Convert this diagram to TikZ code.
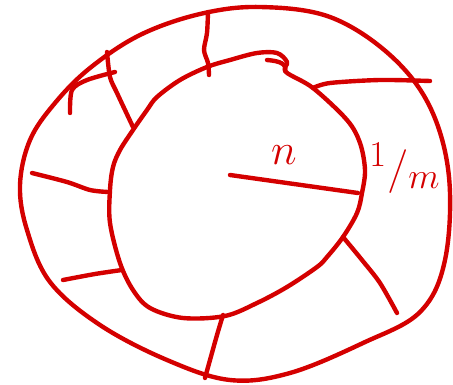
\documentclass[tikz,border=0pt]{standalone}
\usepackage{amsmath,amssymb}
\usetikzlibrary{calc,positioning}
\definecolor{InkRed}{HTML}{D40000}
\tikzset{
  stroke/.style={line width=2.5pt, draw=InkRed, line cap=round, line join=round},
  spoke/.style={stroke, smooth},
  hand/.style={text=InkRed, font=\fontsize{28}{30}\selectfont, inner sep=0pt},
}
\begin{document}
\begin{tikzpicture}[x=0.02cm, y=-0.02cm]
\useasboundingbox (0,0) rectangle (453,385);
% ---------------------------------------------------------------- outer ring
\draw[stroke] plot[smooth cycle, tension=0.6] coordinates {
  (260,7) (330,17) (390,55) (430,107) (449,177) (445,260) (420,312)
  (363,343) (290,373) (230,380) (167,360) (100,325) (50,282) (27,230)
  (20,185) (30,140) (55,103) (90,68) (140,35) (200,14)};
% ---------------------------------------------------------------- inner disc
\draw[stroke] plot[smooth cycle, tension=0.55] coordinates {
  (230,60) (257,53) (277,53) (287,62) (286,72) (313,88) (347,120) (360,143)
  (365,170) (362,193) (357,213) (343,237) (327,257) (317,267) (287,287)
  (257,303) (225,316) (183,318) (150,308) (133,290) (120,263) (110,223)
  (110,190) (113,167) (120,150) (133,130) (147,110) (157,97) (180,80) (207,67)};
\draw[stroke] (267,60) .. controls (280,61) and (287,64) .. (285,71);
% ---------------------------------------------------------------- spokes
\draw[spoke] plot coordinates {(208,12) (207,33) (204,50) (208,63) (209,75)};
\draw[spoke] plot coordinates {(107,52) (110,77) (117,93) (133,127)};
\draw[spoke] plot coordinates {(115,72) (87,80) (72,90) (70,113)};
\draw[spoke] plot coordinates {(32,173) (67,182) (90,190) (108,192)};
\draw[spoke] plot coordinates {(63,280) (95,274) (122,270)};
\draw[spoke] plot coordinates {(223,315) (217,335) (210,360) (205,378)};
\draw[spoke] plot coordinates {(343,237) (362,260) (380,283) (397,313)};
\draw[spoke] plot coordinates {(313,88) (330,83) (380,80) (430,81)};
% ---------------------------------------------------------------- radius and labels
\coordinate (centre) at (230,175);
\coordinate (rim) at (358,193);
\draw[stroke] (centre) -- (rim);
\node[hand] (radius) at (284,155) {$n$};
\node[hand] (width) at (405,168) {$^{1}/_{m}$};
\end{tikzpicture}
\end{document}
